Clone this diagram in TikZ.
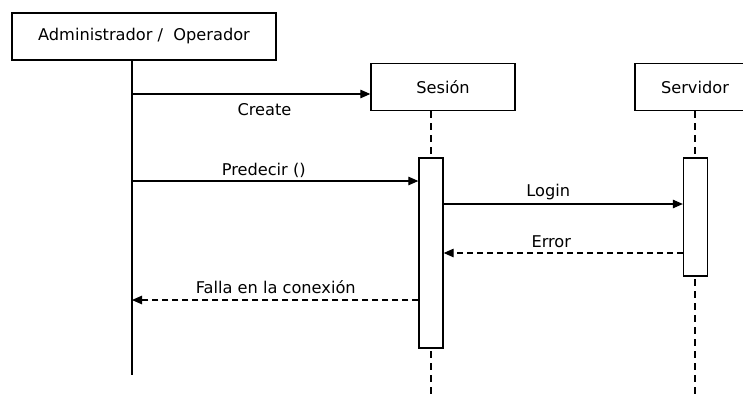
\documentclass[tikz,border=0pt]{standalone}
\usepackage{fontspec}
\setmainfont{DejaVu Sans}
\usetikzlibrary{arrows.meta}
\begin{document}
\begin{tikzpicture}[x=1pt,y=-1pt,
  obj/.style={draw,line width=1.3pt,minimum height=47pt,inner sep=0pt,font=\fontsize{16.2}{18}\selectfont},
  act/.style={draw,line width=1.3pt,fill=white,minimum width=24pt,inner sep=0pt},
  life/.style={line width=1.1pt,dash pattern=on 7pt off 5pt},
  msg/.style={line width=1.1pt,-{Triangle[length=10pt,width=8.5pt]}},
  ret/.style={msg,dash pattern=on 6pt off 4pt},
  lbl/.style={font=\fontsize{16.2}{18}\selectfont,inner sep=0pt,anchor=base}]
\useasboundingbox (0,0) rectangle (743,396);
\clip (0,0) rectangle (743,396);
\fill[white] (0,0) rectangle (743,396);
% objects
\node[obj,minimum width=264pt] (adm) at (144,36.5) {Administrador /\ \ Operador};
\node[obj,minimum width=144pt] (ses) at (443,87) {Sesión};
\node[obj,minimum width=120pt] (srv) at (695,87) {Servidor};
\coordinate (admtop) at (132,60);
\coordinate (admend) at (132,375);
\coordinate (sesend) at (431,396);
\coordinate (srvend) at (695,396);
% lifelines
\draw[line width=1.2pt] (admtop) -- (admend);
\draw[life] (ses.south -| sesend) -- (sesend);
\draw[life] (srv.south) -- (srvend);
% activations
\node[act,minimum height=190pt] (sesact) at (431,253) {};
\node[act,minimum height=118pt] (srvact) at (695.5,217) {};
% messages
\coordinate (c1) at (132,94);
\draw[msg] (c1) -- (c1 -| ses.west) node[lbl,pos=0.556,yshift=-21pt] {Create};
\coordinate (c2) at (132,181);
\draw[msg] (c2) -- (c2 -| sesact.west) node[lbl,pos=0.46,yshift=6pt] {Predecir ()};
\coordinate (c3) at (443,204);
\draw[msg] (c3 -| sesact.east) -- (c3 -| srvact.west) node[lbl,pos=0.4375,yshift=8pt] {Login};
\coordinate (c4) at (683,253);
\draw[ret] (c4 -| srvact.west) -- (c4 -| sesact.east) node[lbl,pos=0.55,yshift=6pt] {Error};
\coordinate (c5) at (419,300);
\draw[ret] (c5 -| sesact.west) -- (c5 -| admend) node[lbl,pos=0.498,yshift=7pt] {Falla en la conexión};
\end{tikzpicture}
\end{document}
